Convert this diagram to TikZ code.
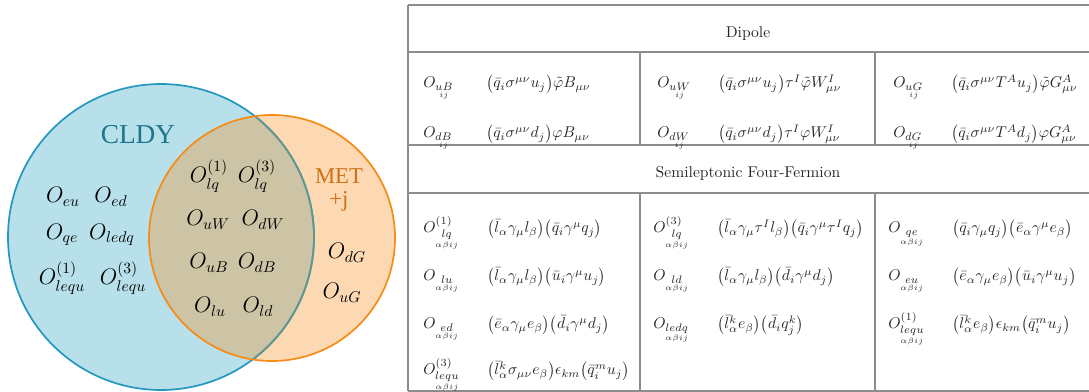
\documentclass[tikz,border=0pt]{standalone}
\usepackage{amsmath}
\usepackage{fontspec}
\newfontfamily\vennfont{Liberation Serif}

\definecolor{cldyfill}{RGB}{183,224,234}
\definecolor{cldyline}{RGB}{38,152,190}
\definecolor{cldytext}{RGB}{28,118,140}
\definecolor{metfill}{RGB}{252,217,178}
\definecolor{metline}{RGB}{246,140,24}
\definecolor{mettext}{RGB}{206,112,22}
\definecolor{bothfill}{RGB}{204,196,164}
\definecolor{bothline}{RGB}{100,150,140}
\definecolor{tablerule}{RGB}{140,140,140}

% operator names with flavour indices stacked below
\newcommand{\opdip}[1]{O_{\underset{ij}{#1}}}
\newcommand{\opsl}[1]{O_{\underset{\alpha\beta ij}{#1}}}

\begin{document}
\begin{tikzpicture}[
  x=0.64pt, y=-0.64pt,
  venn/.style={font=\Large, inner sep=0pt},
  head/.style={font=\normalsize, text=black!85, anchor=base},
  opname/.style={anchor=base west, inner sep=0pt, text=black!85},
  opform/.style={anchor=base west, inner sep=0pt, text=black!85},
  tline/.style={draw=tablerule, line width=0.9pt},
]
\useasboundingbox (0,0) rectangle (1089,392);

% Circle geometry (pixel units)
\def\cldyx{161} \def\cldyy{237} \def\cldyr{153}   % CLDY circle
\def\metx{272}  \def\mety{238}  \def\metr{123}    % MET+j circle

% Table geometry
\def\tabl{408}  \def\tabr{1089}               % left / right edge
\def\cola{640}  \def\colb{875}                % column separators
\def\rowa{5}    \def\rowb{52}   \def\rowc{145}  % dipole block
\def\rowd{193}  \def\rowe{391}                % four-fermion block

% ============================================================
% VENN DIAGRAM
% ============================================================
\fill[cldyfill] (\cldyx,\cldyy) circle[radius=\cldyr];
\fill[metfill] (\metx,\mety) circle[radius=\metr];
\begin{scope}
  \clip (\cldyx,\cldyy) circle[radius=\cldyr];
  \fill[bothfill] (\metx,\mety) circle[radius=\metr];
\end{scope}
\draw[cldyline, line width=1.1pt] (\cldyx,\cldyy) circle[radius=\cldyr];
\begin{scope}
  \clip (\metx,\mety) circle[radius=\metr];
  \draw[bothline, line width=1.1pt] (\cldyx,\cldyy) circle[radius=\cldyr];
\end{scope}
\draw[metline, line width=1.1pt] (\metx,\mety) circle[radius=\metr];

\node[text=cldytext, font=\vennfont\fontsize{17.5}{20}\selectfont]
  (cldy) at (138,135) {CLDY};
\node[text=mettext, font=\vennfont\fontsize{14.5}{16}\selectfont,
  align=center, inner sep=0pt] (met) at (339,190) {MET\\[-1pt]+j};

% CLDY only
\node[venn] (oeu)    at (63,197)  {$O_{eu}$};
\node[venn] (oed)    at (111,197) {$O_{ed}$};
\node[venn] (oqe)    at (62,235)  {$O_{qe}$};
\node[venn] (oledq)  at (112,235) {$O_{ledq}$};
\node[venn] (olequa) at (62,278)  {$O^{(1)}_{lequ}$};
\node[venn] (olequc) at (123,278) {$O^{(3)}_{lequ}$};

% both
\node[venn] (olqa) at (209,176) {$O^{(1)}_{lq}$};
\node[venn] (olqc) at (257,176) {$O^{(3)}_{lq}$};
\node[venn] (ouw)  at (208,220) {$O_{uW}$};
\node[venn] (odw)  at (263,220) {$O_{dW}$};
\node[venn] (oub)  at (209,263) {$O_{uB}$};
\node[venn] (odb)  at (257,263) {$O_{dB}$};
\node[venn] (olu)  at (210,307) {$O_{lu}$};
\node[venn] (old)  at (258,307) {$O_{ld}$};

% MET+j only
\node[venn] (odg) at (347,253) {$O_{dG}$};
\node[venn] (oug) at (342,293) {$O_{uG}$};

% ============================================================
% TABLE RULES
% ============================================================
\draw[tline] (\tabl,\rowa) -- (\tabr,\rowa);
\draw[tline] (\tabl,\rowb) -- (\tabr,\rowb);
\draw[tline] (\tabl,\rowc) -- (\tabr,\rowc);
\draw[tline] (\tabl,\rowd) -- (\tabr,\rowd);
\draw[tline] (\tabl,\rowe) -- (\tabr,\rowe);
\draw[tline] (\tabl,\rowa) -- (\tabl,\rowe);
\draw[tline] (\cola,\rowb) -- (\cola,\rowc);
\draw[tline] (\colb,\rowb) -- (\colb,\rowc);
\draw[tline] (\cola,\rowd) -- (\cola,\rowe);
\draw[tline] (\colb,\rowd) -- (\colb,\rowe);

% ============================================================
% DIPOLE
% ============================================================
\node[head] (dipole) at (748,38) {Dipole};

\node[opname] (tuB) at (423,88)  {$\opdip{uB}$};
\node[opform] (fuB) at (486,88)  {$\bigl(\bar q_i\sigma^{\mu\nu}u_j\bigr)\tilde\varphi B_{\mu\nu}$};
\node[opname] (tdB) at (423,138) {$\opdip{dB}$};
\node[opform] (fdB) at (486,138) {$\bigl(\bar q_i\sigma^{\mu\nu}d_j\bigr)\varphi B_{\mu\nu}$};

\node[opname] (tuW) at (657,88)  {$\opdip{uW}$};
\node[opform] (fuW) at (718,88)  {$\bigl(\bar q_i\sigma^{\mu\nu}u_j\bigr)\tau^I\tilde\varphi W^I_{\mu\nu}$};
\node[opname] (tdW) at (657,138) {$\opdip{dW}$};
\node[opform] (fdW) at (718,138) {$\bigl(\bar q_i\sigma^{\mu\nu}d_j\bigr)\tau^I\varphi W^I_{\mu\nu}$};

\node[opname] (tuG) at (893,88)  {$\opdip{uG}$};
\node[opform] (fuG) at (951,88)  {$\bigl(\bar q_i\sigma^{\mu\nu}T^Au_j\bigr)\tilde\varphi G^A_{\mu\nu}$};
\node[opname] (tdG) at (893,138) {$\opdip{dG}$};
\node[opform] (fdG) at (951,138) {$\bigl(\bar q_i\sigma^{\mu\nu}T^Ad_j\bigr)\varphi G^A_{\mu\nu}$};

% ============================================================
% SEMILEPTONIC FOUR-FERMION
% ============================================================
\node[head] (semilep) at (748,178) {Semileptonic Four-Fermion};

\node[opname] (tlqa) at (423,233) {$\opsl{lq}^{(1)}$};
\node[opform] (flqa) at (487,233) {$\bigl(\bar l_\alpha\gamma_\mu l_\beta\bigr)\bigl(\bar q_i\gamma^\mu q_j\bigr)$};
\node[opname] (tlu)  at (423,281) {$\opsl{lu}$};
\node[opform] (flu)  at (487,281) {$\bigl(\bar l_\alpha\gamma_\mu l_\beta\bigr)\bigl(\bar u_i\gamma^\mu u_j\bigr)$};
\node[opname] (ted)  at (423,329) {$\opsl{ed}$};
\node[opform] (fed)  at (487,329) {$\bigl(\bar e_\alpha\gamma_\mu e_\beta\bigr)\bigl(\bar d_i\gamma^\mu d_j\bigr)$};
\node[opname] (tlequc) at (423,375) {$\opsl{lequ}^{(3)}$};
\node[opform] (flequc) at (487,375) {$\bigl(\bar l^k_\alpha\sigma_{\mu\nu}e_\beta\bigr)\epsilon_{km}\bigl(\bar q^m_iu_j\bigr)$};

\node[opname] (tlqc) at (653,233) {$\opsl{lq}^{(3)}$};
\node[opform] (flqc) at (717,233) {$\bigl(\bar l_\alpha\gamma_\mu\tau^Il_\beta\bigr)\bigl(\bar q_i\gamma^\mu\tau^Iq_j\bigr)$};
\node[opname] (tld)  at (653,281) {$\opsl{ld}$};
\node[opform] (fld)  at (717,281) {$\bigl(\bar l_\alpha\gamma_\mu l_\beta\bigr)\bigl(\bar d_i\gamma^\mu d_j\bigr)$};
\node[opname] (tledq) at (653,329) {$\opsl{ledq}$};
\node[opform] (fledq) at (717,329) {$\bigl(\bar l^k_\alpha e_\beta\bigr)\bigl(\bar d_iq^k_j\bigr)$};

\node[opname] (tqe) at (888,233) {$\opsl{qe}$};
\node[opform] (fqe) at (952,233) {$\bigl(\bar q_i\gamma_\mu q_j\bigr)\bigl(\bar e_\alpha\gamma^\mu e_\beta\bigr)$};
\node[opname] (teu) at (888,281) {$\opsl{eu}$};
\node[opform] (feu) at (952,281) {$\bigl(\bar e_\alpha\gamma_\mu e_\beta\bigr)\bigl(\bar u_i\gamma^\mu u_j\bigr)$};
\node[opname] (tlequa) at (888,329) {$\opsl{lequ}^{(1)}$};
\node[opform] (flequa) at (952,329) {$\bigl(\bar l^k_\alpha e_\beta\bigr)\epsilon_{km}\bigl(\bar q^m_iu_j\bigr)$};

\end{tikzpicture}
\end{document}
